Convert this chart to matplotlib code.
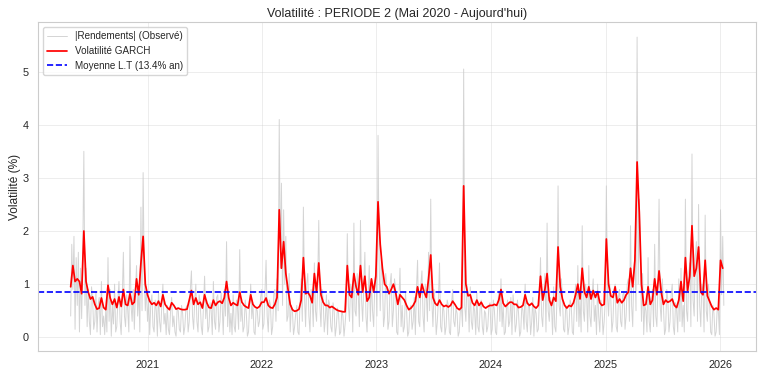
import numpy as np
import pandas as pd
import matplotlib
matplotlib.use('Agg')
import matplotlib.pyplot as plt
import seaborn as sns

# GARCH conditional volatility (%), one value per week from 2020-05-01
garch_2020 = [0.95, 1.35, 1.05, 1.1, 1.05, 0.82, 2.0, 1.05, 0.85, 0.72,
              0.76, 0.62, 0.53, 0.55, 0.74, 0.56, 0.52, 0.98, 0.74, 0.62,
              0.72, 0.56, 0.76, 0.58, 0.9, 0.62, 0.6, 0.82, 0.62, 0.66,
              1.1, 0.8, 1.4, 1.9, 1.0]
garch_2021 = [0.8, 0.68, 0.62, 0.65, 0.6, 0.68, 0.58, 0.8, 0.62, 0.56,
              0.52, 0.65, 0.6, 0.53, 0.55, 0.53, 0.52, 0.52, 0.53, 0.7,
              0.88, 0.62, 0.74, 0.62, 0.66, 0.55, 0.8, 0.65, 0.56, 0.55,
              0.7, 0.6, 0.66, 0.68, 0.64, 0.75, 1.05, 0.74, 0.6, 0.65,
              0.62, 0.6, 0.85, 0.66, 0.6, 0.57, 0.55, 0.8, 0.62, 0.57,
              0.55, 0.58]
garch_2022 = [0.66, 0.66, 0.74, 0.6, 0.56, 0.55, 0.62, 0.75, 2.4, 1.3,
              1.8, 1.2, 0.9, 0.62, 0.52, 0.49, 0.5, 0.53, 0.7, 1.5,
              0.82, 0.85, 0.78, 0.65, 1.2, 0.85, 1.4, 0.8, 0.66, 0.6,
              0.6, 0.56, 0.58, 0.55, 0.52, 0.5, 0.49, 0.48, 0.48, 1.35,
              0.8, 0.75, 1.2, 0.95, 0.8, 1.35, 0.85, 1.15, 0.68, 0.75,
              1.1, 0.85]
garch_2023 = [1.15, 2.55, 1.75, 1.3, 1.0, 0.95, 0.82, 0.9, 1.0, 0.85,
              0.62, 0.8, 0.75, 0.7, 0.6, 0.52, 0.55, 0.6, 0.68, 0.95,
              0.75, 1.0, 0.85, 0.75, 1.1, 1.55, 0.75, 0.64, 0.6, 0.7,
              0.62, 0.58, 0.6, 0.57, 0.6, 0.68, 0.62, 0.55, 0.52, 0.56,
              2.85, 1.0, 0.78, 0.8, 0.65, 0.6, 0.7, 0.6, 0.66, 0.58,
              0.55, 0.58]
garch_2024 = [0.6, 0.6, 0.62, 0.6, 0.7, 0.9, 0.64, 0.58, 0.62, 0.66,
              0.66, 0.62, 0.62, 0.56, 0.57, 0.6, 0.8, 0.64, 0.6, 0.64,
              0.58, 0.55, 0.6, 1.15, 0.7, 0.9, 1.2, 0.7, 0.6, 0.75,
              0.68, 1.7, 0.95, 0.72, 0.6, 0.55, 0.6, 0.58, 0.65, 0.8,
              1.0, 0.72, 1.3, 0.85, 0.75, 0.95, 0.72, 0.88, 0.75, 0.86,
              0.65, 0.6, 0.62]
garch_2025 = [1.85, 1.0, 0.78, 0.75, 0.95, 0.65, 0.72, 0.65, 0.7, 0.8,
              0.85, 1.3, 0.95, 1.45, 3.3, 2.35, 1.0, 0.6, 0.62, 0.95,
              0.62, 0.7, 1.1, 0.8, 1.25, 0.85, 0.62, 0.7, 0.66, 0.68,
              0.72, 0.6, 0.56, 0.7, 1.05, 0.68, 1.5, 0.88, 1.15, 2.1,
              1.15, 1.3, 1.7, 0.85, 0.8, 1.45, 0.78, 0.68, 0.58, 0.52,
              0.55, 0.52]
garch_2026 = [1.45, 1.3]

# |returns| (%), two readings per week
obs_2020 = [0.4, 1.75, 0.9, 1.9, 0.15, 1.5, 0.6, 1.6, 0.1, 1.3,
            0.35, 1.5, 3.5, 0.6, 1.3, 0.2, 0.9, 0.3, 0.05, 0.95,
            0.7, 0.15, 0.3, 0.85, 0.1, 0.6, 0.75, 0.05, 1.05, 0.2,
            0.4, 0.05, 0.55, 0.1, 1.5, 0.3, 0.9, 0.02, 0.6, 0.25,
            1.0, 0.1, 0.2, 0.7, 1.05, 0.3, 0.05, 0.75, 1.6, 0.4,
            0.2, 0.8, 0.5, 0.1, 1.9, 0.6, 0.3, 0.9, 0.15, 0.85,
            1.35, 0.4, 0.9, 0.1, 2.45, 0.5, 3.1, 1.2, 0.5, 0.95]
obs_2021 = [0.3, 0.7, 0.05, 0.65, 0.8, 0.2, 0.1, 0.7, 0.5, 0.02,
            0.85, 0.3, 0.1, 0.6, 1.0, 0.25, 0.45, 0.05, 0.6, 0.15,
            0.05, 0.5, 0.75, 0.2, 0.4, 0.1, 0.02, 0.55, 0.5, 0.15,
            0.1, 0.6, 0.45, 0.05, 0.2, 0.55, 0.6, 0.1, 0.3, 0.9,
            1.25, 0.4, 0.15, 0.7, 1.0, 0.3, 0.1, 0.8, 0.65, 0.2,
            0.05, 0.6, 1.15, 0.35, 0.7, 0.1, 0.2, 0.65, 0.5, 0.05,
            1.05, 0.3, 0.15, 0.75, 0.8, 0.1, 0.3, 0.85, 0.6, 0.05,
            0.9, 0.4, 1.8, 0.2, 0.75, 0.1, 0.45, 0.05, 0.8, 0.2,
            0.1, 0.7, 0.55, 0.15, 1.65, 0.3, 0.6, 0.1, 0.2, 0.7,
            0.45, 0.02, 0.1, 0.6, 1.0, 0.35, 0.65, 0.1, 0.05, 0.55,
            0.5, 0.2, 0.3, 0.75]
obs_2022 = [0.9, 0.15, 0.25, 0.85, 1.45, 0.4, 0.1, 0.7, 0.6, 0.05,
            0.2, 0.8, 0.9, 0.3, 1.1, 0.5, 4.1, 1.3, 2.9, 0.6,
            2.4, 1.0, 1.9, 0.3, 0.4, 1.2, 0.1, 0.6, 0.5, 0.05,
            0.2, 0.45, 0.6, 0.1, 0.05, 0.7, 1.1, 0.3, 2.45, 0.8,
            0.2, 1.0, 1.2, 0.4, 0.1, 0.9, 0.7, 0.2, 1.4, 0.5,
            0.3, 1.0, 2.2, 0.6, 0.2, 0.9, 0.7, 0.1, 0.35, 0.8,
            0.05, 0.7, 0.6, 0.2, 0.1, 0.65, 0.5, 0.02, 0.2, 0.55,
            0.45, 0.05, 0.1, 0.5, 0.4, 0.02, 0.25, 0.55, 1.95, 0.6,
            0.3, 1.0, 0.9, 0.1, 2.15, 0.5, 0.4, 1.2, 0.8, 0.2,
            2.2, 0.7, 0.3, 1.0, 1.6, 0.4, 0.1, 0.8, 1.35, 0.3,
            1.1, 0.5, 0.2, 0.95]
obs_2023 = [1.3, 0.4, 3.8, 1.4, 0.5, 1.5, 1.1, 0.2, 0.4, 1.2,
            0.9, 0.15, 0.3, 1.0, 1.2, 0.2, 0.5, 1.1, 0.9, 0.1,
            0.05, 0.7, 1.3, 0.2, 0.6, 0.1, 0.2, 0.85, 0.5, 0.02,
            0.1, 0.55, 0.6, 0.15, 0.3, 0.75, 0.05, 0.9, 1.45, 0.3,
            0.2, 1.0, 1.25, 0.4, 0.1, 1.0, 0.8, 0.3, 1.6, 0.5,
            2.6, 0.7, 0.2, 0.9, 0.65, 0.05, 0.3, 0.7, 1.4, 0.2,
            0.1, 0.6, 0.5, 0.05, 0.2, 0.7, 0.6, 0.1, 0.05, 0.65,
            0.9, 0.3, 0.2, 0.55, 0.45, 0.02, 0.1, 0.5, 0.55, 0.2,
            5.05, 0.6, 0.3, 1.0, 0.75, 0.1, 0.95, 0.3, 0.15, 0.6,
            0.5, 0.05, 0.85, 0.2, 0.1, 0.55, 0.7, 0.2, 0.05, 0.5,
            0.45, 0.1, 0.2, 0.6]
obs_2024 = [0.65, 0.05, 0.15, 0.7, 0.5, 0.1, 0.05, 0.6, 0.85, 0.3,
            1.1, 0.2, 0.6, 0.05, 0.1, 0.55, 0.7, 0.2, 0.3, 0.75,
            0.05, 0.8, 0.55, 0.1, 0.25, 0.7, 0.45, 0.02, 0.1, 0.6,
            0.5, 0.15, 1.0, 0.3, 0.1, 0.65, 0.55, 0.05, 0.3, 0.75,
            0.02, 0.55, 0.45, 0.1, 0.15, 0.7, 1.5, 0.4, 0.2, 0.8,
            1.2, 0.1, 2.15, 0.5, 0.3, 0.75, 0.6, 0.05, 0.95, 0.2,
            0.1, 0.7, 2.85, 0.6, 0.4, 1.1, 0.75, 0.15, 0.1, 0.6,
            0.5, 0.05, 0.2, 0.7, 0.6, 0.1, 0.05, 0.75, 1.0, 0.3,
            1.35, 0.2, 0.7, 0.1, 2.1, 0.5, 0.3, 1.0, 0.8, 0.1,
            1.35, 0.4, 0.2, 0.8, 1.1, 0.3, 0.6, 0.05, 1.0, 0.4,
            0.1, 0.7, 0.55, 0.05, 0.3, 0.7]
obs_2025 = [2.85, 0.8, 0.4, 1.0, 0.75, 0.1, 0.3, 0.9, 1.0, 0.2,
            0.1, 0.75, 0.9, 0.3, 0.2, 0.8, 0.85, 0.15, 0.4, 1.0,
            1.1, 0.3, 2.1, 0.6, 0.2, 1.2, 1.55, 0.5, 5.65, 1.0,
            2.6, 1.4, 0.3, 1.2, 0.05, 0.6, 0.5, 0.1, 1.5, 0.3,
            0.1, 0.7, 0.9, 0.2, 1.75, 0.4, 0.2, 1.0, 2.6, 0.6,
            0.3, 1.1, 0.6, 0.05, 0.15, 0.9, 0.7, 0.1, 0.3, 0.8,
            1.0, 0.2, 0.05, 0.65, 0.5, 0.1, 1.1, 0.3, 1.3, 0.2,
            0.6, 0.1, 2.6, 0.5, 0.3, 1.2, 1.4, 0.2, 3.45, 0.7,
            0.4, 1.5, 1.8, 0.3, 2.5, 0.6, 0.2, 1.0, 0.9, 0.1,
            2.3, 0.5, 0.3, 1.0, 0.7, 0.1, 0.05, 0.6, 0.45, 0.02,
            0.1, 0.55, 0.5, 0.05]
obs_2026 = [2.4, 0.8, 1.9, 0.6]

mean_lt = 13.4 / np.sqrt(252)  # long term vol, daily %

garch = garch_2020 + garch_2021 + garch_2022 + garch_2023 + garch_2024 + garch_2025 + garch_2026
obs = obs_2020 + obs_2021 + obs_2022 + obs_2023 + obs_2024 + obs_2025 + obs_2026

weeks = pd.date_range('2020-05-01', periods=len(garch), freq='7D')
half_weeks = pd.date_range('2020-05-01', periods=len(obs), freq='84h')

sns.set_style('whitegrid')
plt.rcParams['font.family'] = ['Liberation Sans', 'DejaVu Sans']

fig, ax = plt.subplots(figsize=(7.68, 3.76), dpi=100)
fig.subplots_adjust(left=0.0495, right=0.985, bottom=0.066, top=0.941)

ax.plot(half_weeks, obs, color='#cdcdcd', lw=0.7, alpha=0.85, label='|Rendements| (Observé)')
ax.plot(weeks, garch, color='red', lw=1.25, label='Volatilité GARCH')
ax.axhline(mean_lt, color='blue', ls='--', lw=1.2, label='Moyenne L.T (13.4% an)')

ax.set_title('Volatilité : PERIODE 2 (Mai 2020 - Aujourd\'hui)', fontsize=9, pad=4)
ax.set_ylabel('Volatilité (%)', fontsize=8.6, labelpad=1)
ax.tick_params(labelsize=7.8, pad=3)
ax.grid(True, alpha=0.4, lw=0.6)
for s in ax.spines.values():
    s.set_color('#cccccc')
    s.set_linewidth(0.8)
ax.legend(loc='upper left', fontsize=7.1, frameon=True)

fig.savefig('out.png', dpi=100)
